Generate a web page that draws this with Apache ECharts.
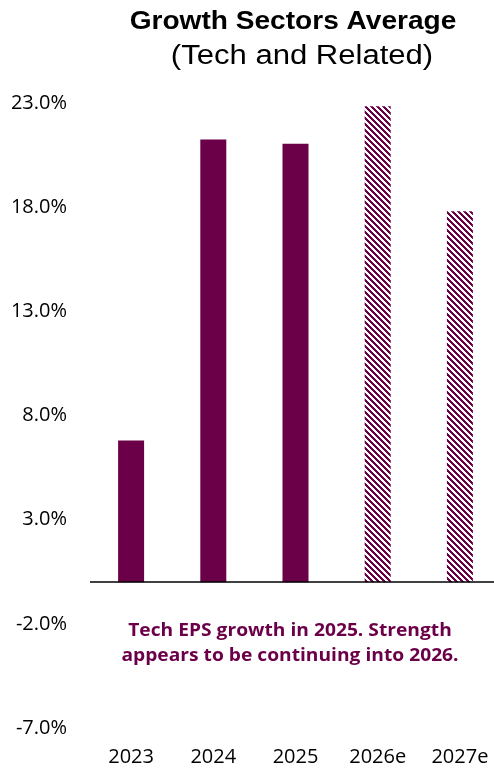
<!DOCTYPE html>
<html>
<head>
<meta charset="utf-8">
<script src="https://cdn.jsdelivr.net/npm/echarts@6/dist/echarts.min.js"></script>
<style>
html,body{margin:0;padding:0;background:#fff;}
#chart{width:494px;height:770px;}
</style>
</head>
<body>
<div id="chart"></div>
<script>
var titleText = 'Growth Sectors Average';
var subtitleText = '(Tech and Related)';
var categories = ['2023', '2024', '2025', '2026e', '2027e'];
var growthValues = [6.8, 21.25, 21.05, 22.85, 17.8];
var isEstimate = [false, false, false, true, true];
var noteLines = ['Tech EPS growth in 2025. Strength', 'appears to be continuing into 2026.'];

var PURPLE = '#6B0048';

// diagonal hatch pattern
var tile = document.createElement('canvas');
tile.width = 6; tile.height = 6;
var tctx = tile.getContext('2d');
tctx.fillStyle = '#ffffff';
tctx.fillRect(0, 0, 6, 6);
tctx.fillStyle = PURPLE;
for (var py = 0; py < 6; py++) {
  for (var px = 0; px < 6; px++) {
    if (((px - py) % 6 + 6) % 6 < 3) tctx.fillRect(px, py, 1, 1);
  }
}

var barData = growthValues.map(function (v, i) {
  return {
    value: v,
    itemStyle: { color: isEstimate[i] ? { image: tile, repeat: 'repeat' } : PURPLE }
  };
});

var chart = echarts.init(document.getElementById('chart'), null, { renderer: 'canvas' });
chart.setOption({
  animation: false,
  backgroundColor: '#ffffff',
  grid: { left: 90, top: 103, width: 411, bottom: 42, containLabel: false, outerBoundsMode: 'none' },
  graphic: [
    { type: 'text', x: 293, y: 22, scaleX: 1.08, style: { text: titleText, align: 'center', verticalAlign: 'middle', font: 'bold 26px "Liberation Sans", Arial, sans-serif', fill: '#000' } },
    { type: 'text', x: 302, y: 57, scaleX: 1.15, style: { text: subtitleText, align: 'center', verticalAlign: 'middle', font: '27px "Liberation Sans", Arial, sans-serif', fill: '#000' } },
    { type: 'text', x: 290, y: 644, scaleX: 1.13, style: { text: noteLines.join('\n'), align: 'center', verticalAlign: 'middle', font: 'bold 17px "Open Sans", Lato, sans-serif', lineHeight: 25, fill: PURPLE } }
  ],
  xAxis: {
    type: 'category',
    data: categories,
    axisLine: { show: false },
    axisTick: { show: false },
    axisLabel: { margin: 19, color: '#000', fontSize: 20, fontFamily: '"Open Sans", Lato, sans-serif' }
  },
  yAxis: {
    type: 'value',
    min: -7, max: 23, interval: 5,
    splitLine: { show: false },
    axisLine: { show: false },
    axisTick: { show: false },
    axisLabel: {
      margin: 23, color: '#000', fontSize: 20, fontFamily: '"Open Sans", Lato, sans-serif',
      formatter: function (v) { return v.toFixed(1) + '%'; }
    }
  },
  series: [{
    type: 'bar',
    data: barData,
    barWidth: 26,
    markLine: {
      silent: true,
      symbol: 'none',
      label: { show: false },
      lineStyle: { color: '#000', width: 1.5, type: 'solid' },
      data: [{ yAxis: 0 }]
    }
  }]
});
</script>
</body>
</html>
